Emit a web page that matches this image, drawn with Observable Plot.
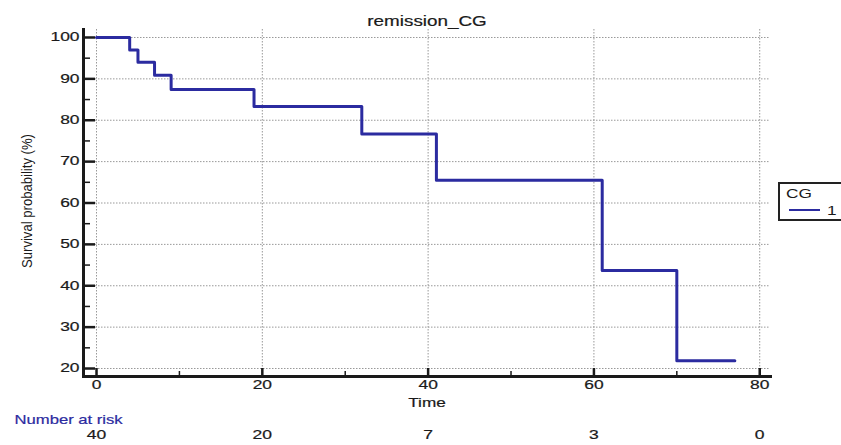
<!DOCTYPE html>
<html>
<head>
<meta charset="utf-8">
<script src="https://cdn.jsdelivr.net/npm/d3@7"></script>
<script src="https://cdn.jsdelivr.net/npm/@observablehq/plot@0.6"></script>
<style>
  html, body { margin: 0; padding: 0; background: #fff; overflow: hidden; }
  #wrap { position: relative; width: 841px; height: 445px; }
  #legend {
    position: absolute; left: 778px; top: 182px; width: 70px; height: 35px;
    border: 2px solid #222; box-sizing: content-box; background: #fff;
    font-family: "Liberation Sans", Arial, sans-serif; font-size: 13px; color: #1a1a1a;
  }
  #legend .ttl { position: absolute; left: 6px; top: 2px; transform: scaleX(1.33); transform-origin: left center; }
  #legend .ln { position: absolute; left: 9px; top: 25px; width: 31px; height: 0; border-top: 2.5px solid #2b2ba0; }
  #legend .lab { position: absolute; left: 47px; top: 19px; transform: scaleX(1.33); transform-origin: left center; }
</style>
</head>
<body>
<div id="wrap"></div>
<script>
// Kaplan-Meier step data (event times and survival probability %)
const times = [0, 4, 5, 7, 9, 19, 32, 41, 61, 70];
const survival = [100, 97, 94, 90.9, 87.4, 83.3, 76.7, 65.5, 43.7, 21.9];
const lastTime = 77;

// Axis ticks
const yTicks = [20, 30, 40, 50, 60, 70, 80, 90, 100];
const yMinor = [25, 35, 45, 55, 65, 75, 85, 95];
const xTicks = [0, 20, 40, 60, 80];
const xMinor = [10, 30, 50, 70];

// Number at risk
const riskTimes = [0, 20, 40, 60, 80];
const riskCounts = [40, 20, 7, 3, 0];

const steps = times.map((t, i) => ({time: t, surv: survival[i]}));
steps.push({time: lastTime, surv: survival[survival.length - 1]});
const risk = riskTimes.map((t, i) => ({time: t, n: riskCounts[i]}));

const W = 841, H = 445, mL = 83, mR = 71, mT = 29, mB = 69;
const pw = W - mL - mR, ph = H - mT - mB;
const ink = "#1a1a1a";
const blue = "#2b2ba0";

const chart = Plot.plot({
  width: W, height: H,
  marginLeft: mL, marginRight: mR, marginTop: mT, marginBottom: mB,
  x: {domain: [-1.57, 81.3]},
  y: {domain: [18.07, 101.93]},
  style: {fontFamily: "'Liberation Sans', Arial, sans-serif", fontSize: "13px", background: "#fff", color: ink, overflow: "visible"},
  marks: [
    Plot.gridY(yTicks, {stroke: "#999", strokeOpacity: 1, strokeDasharray: "1.5,1.5", strokeWidth: 1}),
    Plot.gridX(xTicks, {stroke: "#999", strokeOpacity: 1, strokeDasharray: "1.5,1.5", strokeWidth: 1}),
    Plot.line(steps, {x: "time", y: "surv", curve: "step-after", stroke: blue, strokeWidth: 3}),
    Plot.tickY(yTicks, {y: d => d, insetRight: pw - 12, stroke: ink, strokeWidth: 2.5}),
    Plot.tickY(yMinor, {y: d => d, insetRight: pw - 7, stroke: ink, strokeWidth: 1.5}),
    Plot.tickX(xTicks, {x: d => d, insetTop: ph - 8, stroke: ink, strokeWidth: 2.5}),
    Plot.tickX(xMinor, {x: d => d, insetTop: ph - 5, stroke: ink, strokeWidth: 1.5}),
    Plot.frame({anchor: "left", stroke: ink, strokeWidth: 3}),
    Plot.frame({anchor: "bottom", stroke: ink, strokeWidth: 3}),
    Plot.axisY(yTicks, {tickSize: 0, tickPadding: 4, label: null, fontSize: 12}),
    Plot.axisX(xTicks, {tickSize: 0, tickPadding: 4, label: null, fontSize: 12}),
    Plot.text(["remission_CG"], {frameAnchor: "top", dy: -14, fontSize: 14.5, fill: ink, className: "s130"}),
    Plot.text(["Time"], {frameAnchor: "bottom", dy: 30, fontSize: 13, fill: ink, className: "s132"}),
    Plot.text(["Survival probability (%)"], {frameAnchor: "left", textAnchor: "middle", dx: -56, dy: -2, rotate: -90, fontSize: 14, fill: ink, className: "ylab"}),
    Plot.text(["Number at risk"], {frameAnchor: "bottom-left", dx: -69, dy: 47, textAnchor: "start", fontSize: 13, fill: blue, className: "s128"}),
    Plot.text(risk, {x: "time", text: "n", frameAnchor: "bottom", dy: 62, fontSize: 12.5, fill: ink, className: "s140"})
  ]
});
const wrap = document.getElementById("wrap");
wrap.appendChild(chart);

// Mimic the horizontally stretched, slightly heavy lettering of the reference
function stretch(sel, f) {
  d3.select(chart).selectAll(sel).each(function() {
    const len = this.getComputedTextLength();
    this.setAttribute("textLength", (len * f).toFixed(2));
    this.setAttribute("lengthAdjust", "spacingAndGlyphs");
    this.style.stroke = getComputedStyle(this).fill;
    this.style.strokeWidth = "0.2px";
  });
}
stretch('[aria-label="y-axis tick label"] text', 1.45);
stretch('[aria-label="x-axis tick label"] text', 1.45);
stretch('.s130 text', 1.30);
stretch('.s132 text', 1.32);
stretch('.s128 text', 1.28);
stretch('.s140 text', 1.40);
d3.select(chart).selectAll('.ylab text').each(function() {
  this.setAttribute("textLength", "134");
  this.setAttribute("lengthAdjust", "spacingAndGlyphs");
});

const lg = document.createElement("div");
lg.id = "legend";
lg.innerHTML = '<span class="ttl">CG</span><div class="ln"></div><span class="lab">1</span>';
wrap.appendChild(lg);
</script>
</body>
</html>
